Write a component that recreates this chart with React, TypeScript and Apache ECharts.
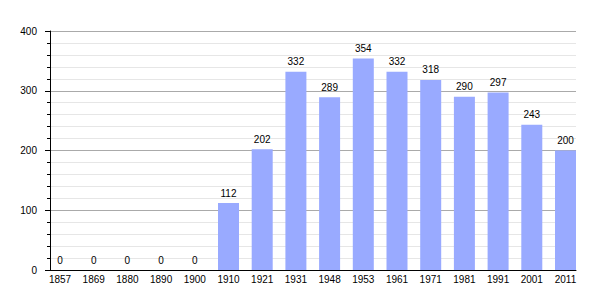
import React, { useEffect, useRef } from "react";
import * as echarts from "echarts";

const years = ["1857", "1869", "1880", "1890", "1900", "1910", "1921", "1931", "1948", "1953", "1961", "1971", "1981", "1991", "2001", "2011"];
const population = [0, 0, 0, 0, 0, 112, 202, 332, 289, 354, 332, 318, 290, 297, 243, 200];
const yTicks = [0, 100, 200, 300, 400];

const FONT = "Liberation Sans, Arial, sans-serif";

export default function App() {
  const ref = useRef<HTMLDivElement>(null);
  useEffect(() => {
    const chart = echarts.init(ref.current!, null, { renderer: "svg" });
    chart.setOption({
      animation: false,
      grid: [
        { left: 50, right: 29, top: 31, bottom: 30 },
        { left: 43.15, right: 22.65, top: 31, bottom: 30 },
      ],
      xAxis: [
        {
          gridIndex: 0,
          type: "value",
          min: 0,
          max: 1,
          axisLine: { show: true, lineStyle: { color: "#000", width: 1 } },
          axisTick: { show: false },
          axisLabel: { show: false },
          splitLine: { show: false },
        },
        {
          gridIndex: 1,
          type: "category",
          data: years,
          axisLine: { show: false },
          axisTick: { show: false },
          axisLabel: { color: "#000", fontSize: 10, fontFamily: FONT, margin: 4 },
        },
      ],
      yAxis: [
        {
          gridIndex: 0,
          type: "value",
          min: yTicks[0],
          max: yTicks[yTicks.length - 1],
          interval: 100,
          axisLine: { show: true, lineStyle: { color: "#000", width: 1 } },
          axisTick: { show: true, length: 5, lineStyle: { color: "#000" } },
          minorTick: { show: true, splitNumber: 5, length: 3, lineStyle: { color: "#000" } },
          axisLabel: { color: "#000", fontSize: 10, fontFamily: FONT, margin: 13 },
          splitLine: { show: true, lineStyle: { color: "#aaaaaa", width: 1 } },
          minorSplitLine: { show: true, lineStyle: { color: "#e6e6e6", width: 1 } },
        },
        {
          gridIndex: 1,
          type: "value",
          min: yTicks[0],
          max: yTicks[yTicks.length - 1],
          show: false,
          splitLine: { show: false },
        },
      ],
      series: [
        {
          type: "bar",
          xAxisIndex: 1,
          yAxisIndex: 1,
          data: population,
          barWidth: 21,
          itemStyle: { color: "#99aaff" },
          label: {
            show: true,
            position: "top",
            distance: 5,
            color: "#000",
            fontSize: 10,
            fontFamily: FONT,
          },
        },
      ],
    });
    return () => chart.dispose();
  }, []);
  return <div ref={ref} style={{ width: 605, height: 300, position: "absolute", left: 0, top: 0 }} />;
}
